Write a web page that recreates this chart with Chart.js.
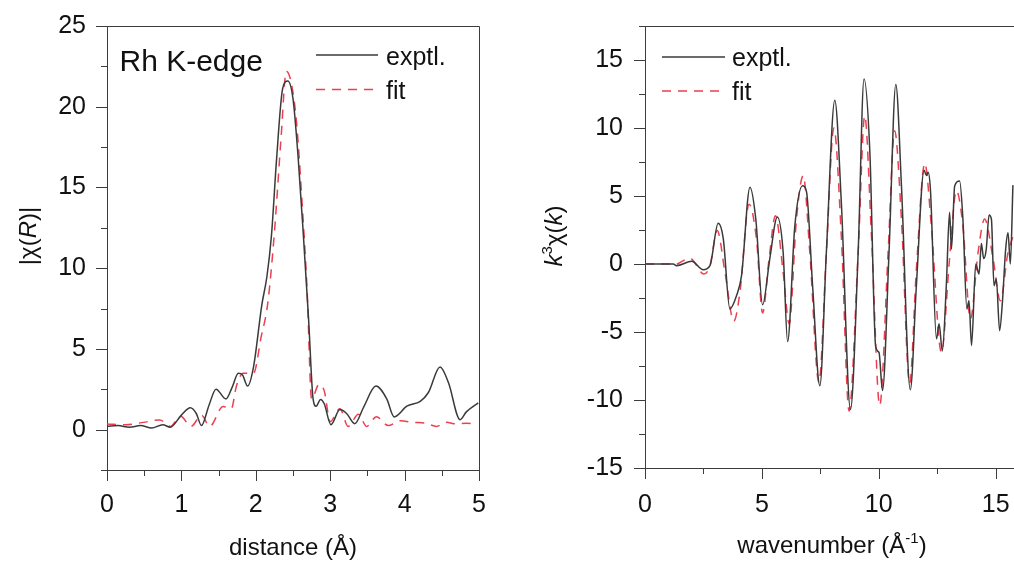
<!DOCTYPE html>
<html>
<head>
<meta charset="utf-8">
<script src="https://cdn.jsdelivr.net/npm/chart.js@4.4.0/dist/chart.umd.min.js"></script>
<style>
  html, body { margin: 0; padding: 0; background: #fff; overflow: hidden; width: 1014px; height: 568px; }
  .panel { position: absolute; top: 0; height: 568px; }
  #left { left: 0; width: 510px; }
  #right { left: 510px; width: 520px; }
</style>
</head>
<body>
<div class="panel" id="left"><canvas id="rChart"></canvas></div>
<div class="panel" id="right"><canvas id="kChart"></canvas></div>
<script>
  // |chi(R)| vs distance
  const rExptX = [0, 0.15, 0.3, 0.45, 0.6, 0.75, 0.85, 1.0, 1.12, 1.2, 1.27, 1.37, 1.465, 1.6, 1.68, 1.765, 1.82, 1.89, 1.97,
    2.08, 2.15, 2.21, 2.28, 2.36, 2.43, 2.5, 2.57, 2.64, 2.71, 2.77, 2.81, 2.87, 2.92, 3.01, 3.13, 3.22, 3.33, 3.45,
    3.615, 3.76, 3.86, 4.03, 4.21, 4.32, 4.476, 4.59, 4.745, 4.83, 4.99];
  const rExptY = [0.2, 0.25, 0.15, 0.25, 0.1, 0.3, 0.15, 0.9, 1.35, 1.0, 0.25, 1.5, 2.5, 1.9, 2.6, 3.5, 3.4, 2.7, 3.9,
    7.7, 9.5, 12.0, 16.8, 21.1, 21.6, 20.5, 16.8, 12.0, 6.8, 1.9, 1.45, 1.87, 1.6, 0.31, 1.24, 1.0, 0.37, 1.4,
    2.7, 1.9, 0.79, 1.45, 1.75, 2.3, 3.88, 2.9, 0.62, 1.1, 1.66];
  const rFitX = [0, 0.25, 0.49, 0.71, 0.85, 0.99, 1.13, 1.27, 1.38, 1.56, 1.67, 1.74, 1.83, 1.97, 2.07, 2.16, 2.25, 2.34,
    2.41, 2.48, 2.55, 2.62, 2.69, 2.75, 2.85, 2.92, 3.0, 3.13, 3.24, 3.38, 3.49, 3.62, 3.78, 3.94, 4.12, 4.28, 4.43,
    4.56, 4.7, 4.83, 4.98];
  const rFitY = [0.35, 0.3, 0.45, 0.6, 0.2, 0.83, 0.2, 0.9, 0.2, 1.43, 1.3, 2.7, 3.5, 3.5, 5.7, 7.8, 12.2, 18.1,
    22.2, 21.4, 18.9, 14.2, 8.6, 1.9, 2.8, 2.4, 0.5, 1.3, 0.2, 0.95, 0.2, 0.8, 0.25, 0.55, 0.45, 0.4, 0.2,
    0.45, 0.35, 0.4, 0.3];

  // k^3 chi(k) vs wavenumber
  const kExptX = [0, 1.21, 1.35, 2.0, 2.49, 2.78, 3.13, 3.35, 3.63, 3.92, 4.13, 4.49, 4.74, 5.03, 5.34, 5.66, 5.91, 6.1,
    6.41, 6.74, 6.91, 7.17, 7.48, 7.76, 8.12, 8.4, 8.79, 9.12, 9.37, 9.62, 9.87, 10.01, 10.16, 10.44, 10.73, 10.97,
    11.35, 11.61, 11.94, 12.04, 12.11, 12.21, 12.47, 12.58, 12.72, 12.89, 13.03, 13.11, 13.25, 13.46, 13.6, 13.77,
    13.86, 13.97, 14.15, 14.29, 14.39, 14.49, 14.6, 14.72, 14.82, 14.93, 15.03, 15.17, 15.29, 15.43, 15.53, 15.63, 15.74];
  const kExptY = [0, 0, -0.12, 0.2, -0.42, -0.12, 3.0, 1.84, -3.3, -2.3, -0.86, 5.65, 3.3, -3.0, 0.4, 3.45, 0.86, -5.7,
    2.8, 5.75, 5.3, -1.6, -8.96, 0.9, 12.04, 4.5, -10.7, 0.9, 13.6, 8.2, -6.1, -6.5, -9.3, 0.86, 13.2, 5.8,
    -9.25, -1.6, 6.9, 6.5, 6.75, 5.5, -5.5, -4.4, -6.4, -1.6, 3.8, 1.1, 5.75, 6.1, 3.3, -3.3,
    -2.7, -6.0, 0, -0.74, 1.5, 0.4, 1.1, 3.6, 3.3, -1.6, -1.1, -4.9, -2.8, 1.1, 2.3, 0, 5.8];
  const kFitX = [0, 1.07, 1.21, 1.92, 2.52, 2.78, 3.09, 3.42, 3.8, 4.06, 4.45, 4.77, 5.03, 5.31, 5.58, 5.91, 6.17, 6.48,
    6.77, 7.05, 7.44, 7.76, 8.08, 8.4, 8.73, 9.12, 9.4, 9.69, 10.04, 10.4, 10.68, 10.97, 11.32, 11.61, 11.97, 12.25,
    12.68, 13.03, 13.32, 13.6, 13.92, 14.25, 14.53, 14.89, 15.2, 15.53, 15.74];
  const kFitY = [0, 0, -0.07, 0.42, -0.74, -0.12, 2.46, -0.6, -4.2, -2.1, 4.4, 1.8, -3.6, 0.4, 3.55, -0.6, -4.4, 3.3,
    6.5, 0.86, -8.7, 0.86, 10.0, 2.0, -10.8, 0.86, 10.9, 2.0, -10.4, 0.86, 9.8, 3.3, -8.8, -0.37, 7.4, 2.8,
    -6.5, 0.4, 5.4, 2.8, -4.05, 0.86, 3.3, 0.4, -2.7, 0.86, 2.0];

  const FONT = '"Liberation Sans", Arial, sans-serif';
  const AXIS = '#3c3c3c';
  const EXPT = '#3a3a3a';
  const FIT = '#ec3f50';
  const DASH = [9, 7];

  const pts = (xs, ys) => xs.map((x, i) => ({ x: x, y: ys[i] }));
  const isMult = (v, m) => Math.abs(v / m - Math.round(v / m)) < 1e-6;

  const makeScale = (min, max, step, labelEvery, size, horizontal, pad) => ({
    type: 'linear',
    min: min,
    max: max,
    afterFit: (s) => {
      // fixed axis box, and no extra room for the end labels
      if (horizontal) { s.height = size; s.paddingLeft = 0; s.paddingRight = 0; }
      else { s.width = size; s.paddingTop = 0; s.paddingBottom = 0; }
    },
    border: { display: true, color: AXIS, width: 1 },
    grid: { display: false, drawTicks: false },
    ticks: {
      stepSize: step, autoSkip: false, maxRotation: 0, includeBounds: false,
      color: '#111', padding: pad,
      font: { family: FONT, size: 25 },
      callback: (v) => (isMult(v, labelEvery) ? String(Math.round(v)) : ''),
    },
  });

  const line = (label, xs, ys, color, dash) => ({
    label: label,
    data: pts(xs, ys),
    showLine: true,
    borderColor: color,
    borderWidth: 1.5,
    borderDash: dash,
    pointRadius: 0,
    cubicInterpolationMode: 'monotone',
  });

  // outward tick marks, long for labelled ticks, short for the others
  const drawTickMarks = (chart) => {
    const ctx = chart.ctx;
    const a = chart.chartArea;
    const xs = chart.scales.x;
    const ys = chart.scales.y;
    ctx.save();
    ctx.strokeStyle = AXIS;
    ctx.lineWidth = 1;
    ctx.beginPath();
    xs.ticks.forEach((t) => {
      const px = Math.round(xs.getPixelForValue(t.value)) + 0.5;
      ctx.moveTo(px, a.bottom);
      ctx.lineTo(px, a.bottom + (t.label !== '' ? 11 : 6));
    });
    ys.ticks.forEach((t) => {
      const py = Math.round(ys.getPixelForValue(t.value)) + 0.5;
      ctx.moveTo(a.left, py);
      ctx.lineTo(a.left - (t.label !== '' ? 11 : 6), py);
    });
    ctx.stroke();
    ctx.restore();
  };

  // text with italic / superscript pieces, centred on x, y = baseline
  const drawRich = (ctx, parts, x, y, size, rotate) => {
    const fontFor = (p) => (p.i ? 'italic ' : '') + (p.sup ? Math.round(size * 0.62) : size) + 'px ' + FONT;
    ctx.save();
    ctx.translate(x, y);
    if (rotate) ctx.rotate(-Math.PI / 2);
    let w = 0;
    parts.forEach((p) => { ctx.font = fontFor(p); w += ctx.measureText(p.t).width; });
    let cx = -w / 2;
    ctx.fillStyle = '#111';
    ctx.textBaseline = 'alphabetic';
    parts.forEach((p) => {
      ctx.font = fontFor(p);
      ctx.fillText(p.t, cx, p.sup ? -size * 0.4 : 0);
      cx += ctx.measureText(p.t).width;
    });
    ctx.restore();
  };

  const drawLegend = (ctx, x0, x1, yE, yF, tx, bE, bF) => {
    ctx.save();
    ctx.lineWidth = 1.5;
    ctx.strokeStyle = EXPT;
    ctx.beginPath(); ctx.moveTo(x0, yE); ctx.lineTo(x1, yE); ctx.stroke();
    ctx.strokeStyle = FIT;
    ctx.setLineDash(DASH);
    ctx.beginPath(); ctx.moveTo(x0, yF); ctx.lineTo(x1, yF); ctx.stroke();
    ctx.setLineDash([]);
    ctx.fillStyle = '#111';
    ctx.font = '25px ' + FONT;
    ctx.textBaseline = 'alphabetic';
    ctx.fillText('exptl.', tx, bE);
    ctx.fillText('fit', tx, bF);
    ctx.restore();
  };

  const frame = (ctx, a) => {
    ctx.save();
    ctx.strokeStyle = AXIS;
    ctx.lineWidth = 1;
    ctx.beginPath();
    ctx.moveTo(a.left, a.top + 0.5);
    ctx.lineTo(a.right + 0.5, a.top + 0.5);
    ctx.lineTo(a.right + 0.5, a.bottom);
    ctx.stroke();
    ctx.restore();
  };

  const baseOptions = (padRight, scales) => ({
    responsive: true,
    maintainAspectRatio: false,
    animation: false,
    layout: { padding: { left: 0, top: 26, right: padRight, bottom: 0 } },
    plugins: { legend: { display: false }, tooltip: { enabled: false } },
    scales: scales,
  });

  new Chart(document.getElementById('rChart'), {
    type: 'scatter',
    data: {
      datasets: [
        line('exptl.', rExptX, rExptY, EXPT, []),
        line('fit', rFitX, rFitY, FIT, DASH),
      ],
    },
    options: baseOptions(31, {
      x: makeScale(0, 5, 0.5, 1, 98, true, 20),
      y: makeScale(-2.5, 25, 2.5, 5, 107, false, 21),
    }),
    plugins: [{
      id: 'rDecor',
      afterDraw: (chart) => {
        const ctx = chart.ctx;
        frame(ctx, chart.chartArea);
        drawTickMarks(chart);
        ctx.save();
        ctx.fillStyle = '#111';
        ctx.font = '30px ' + FONT;
        ctx.fillText('Rh K-edge', 119.5, 71);
        ctx.restore();
        drawLegend(ctx, 316, 378, 55, 89.5, 386, 65, 98.5);
        drawRich(ctx, [{ t: 'distance (Å)' }], 293, 555, 24, false);
        drawRich(ctx, [{ t: '|χ(' }, { t: 'R', i: true }, { t: ')|' }], 36, 236, 24, true);
      },
    }],
  });

  new Chart(document.getElementById('kChart'), {
    type: 'scatter',
    data: {
      datasets: [
        line('exptl.', kExptX, kExptY, EXPT, []),
        line('fit', kFitX, kFitY, FIT, DASH),
      ],
    },
    options: baseOptions(11, {
      x: makeScale(0, 16, 2.5, 5, 100, true, 22),
      y: makeScale(-15, 17.5, 2.5, 5, 135, false, 22),
    }),
    plugins: [{
      id: 'kDecor',
      afterDraw: (chart) => {
        const ctx = chart.ctx;
        frame(ctx, chart.chartArea);
        drawTickMarks(chart);
        drawLegend(ctx, 152, 215, 57, 91, 222, 66, 100);
        drawRich(ctx, [{ t: 'wavenumber (Å' }, { t: '-1', sup: true }, { t: ')' }], 322, 553, 24, false);
        drawRich(ctx, [{ t: 'k', i: true }, { t: '3', sup: true }, { t: 'χ(' }, { t: 'k', i: true }, { t: ')' }], 52, 236, 24, true);
      },
    }],
  });
</script>
</body>
</html>
